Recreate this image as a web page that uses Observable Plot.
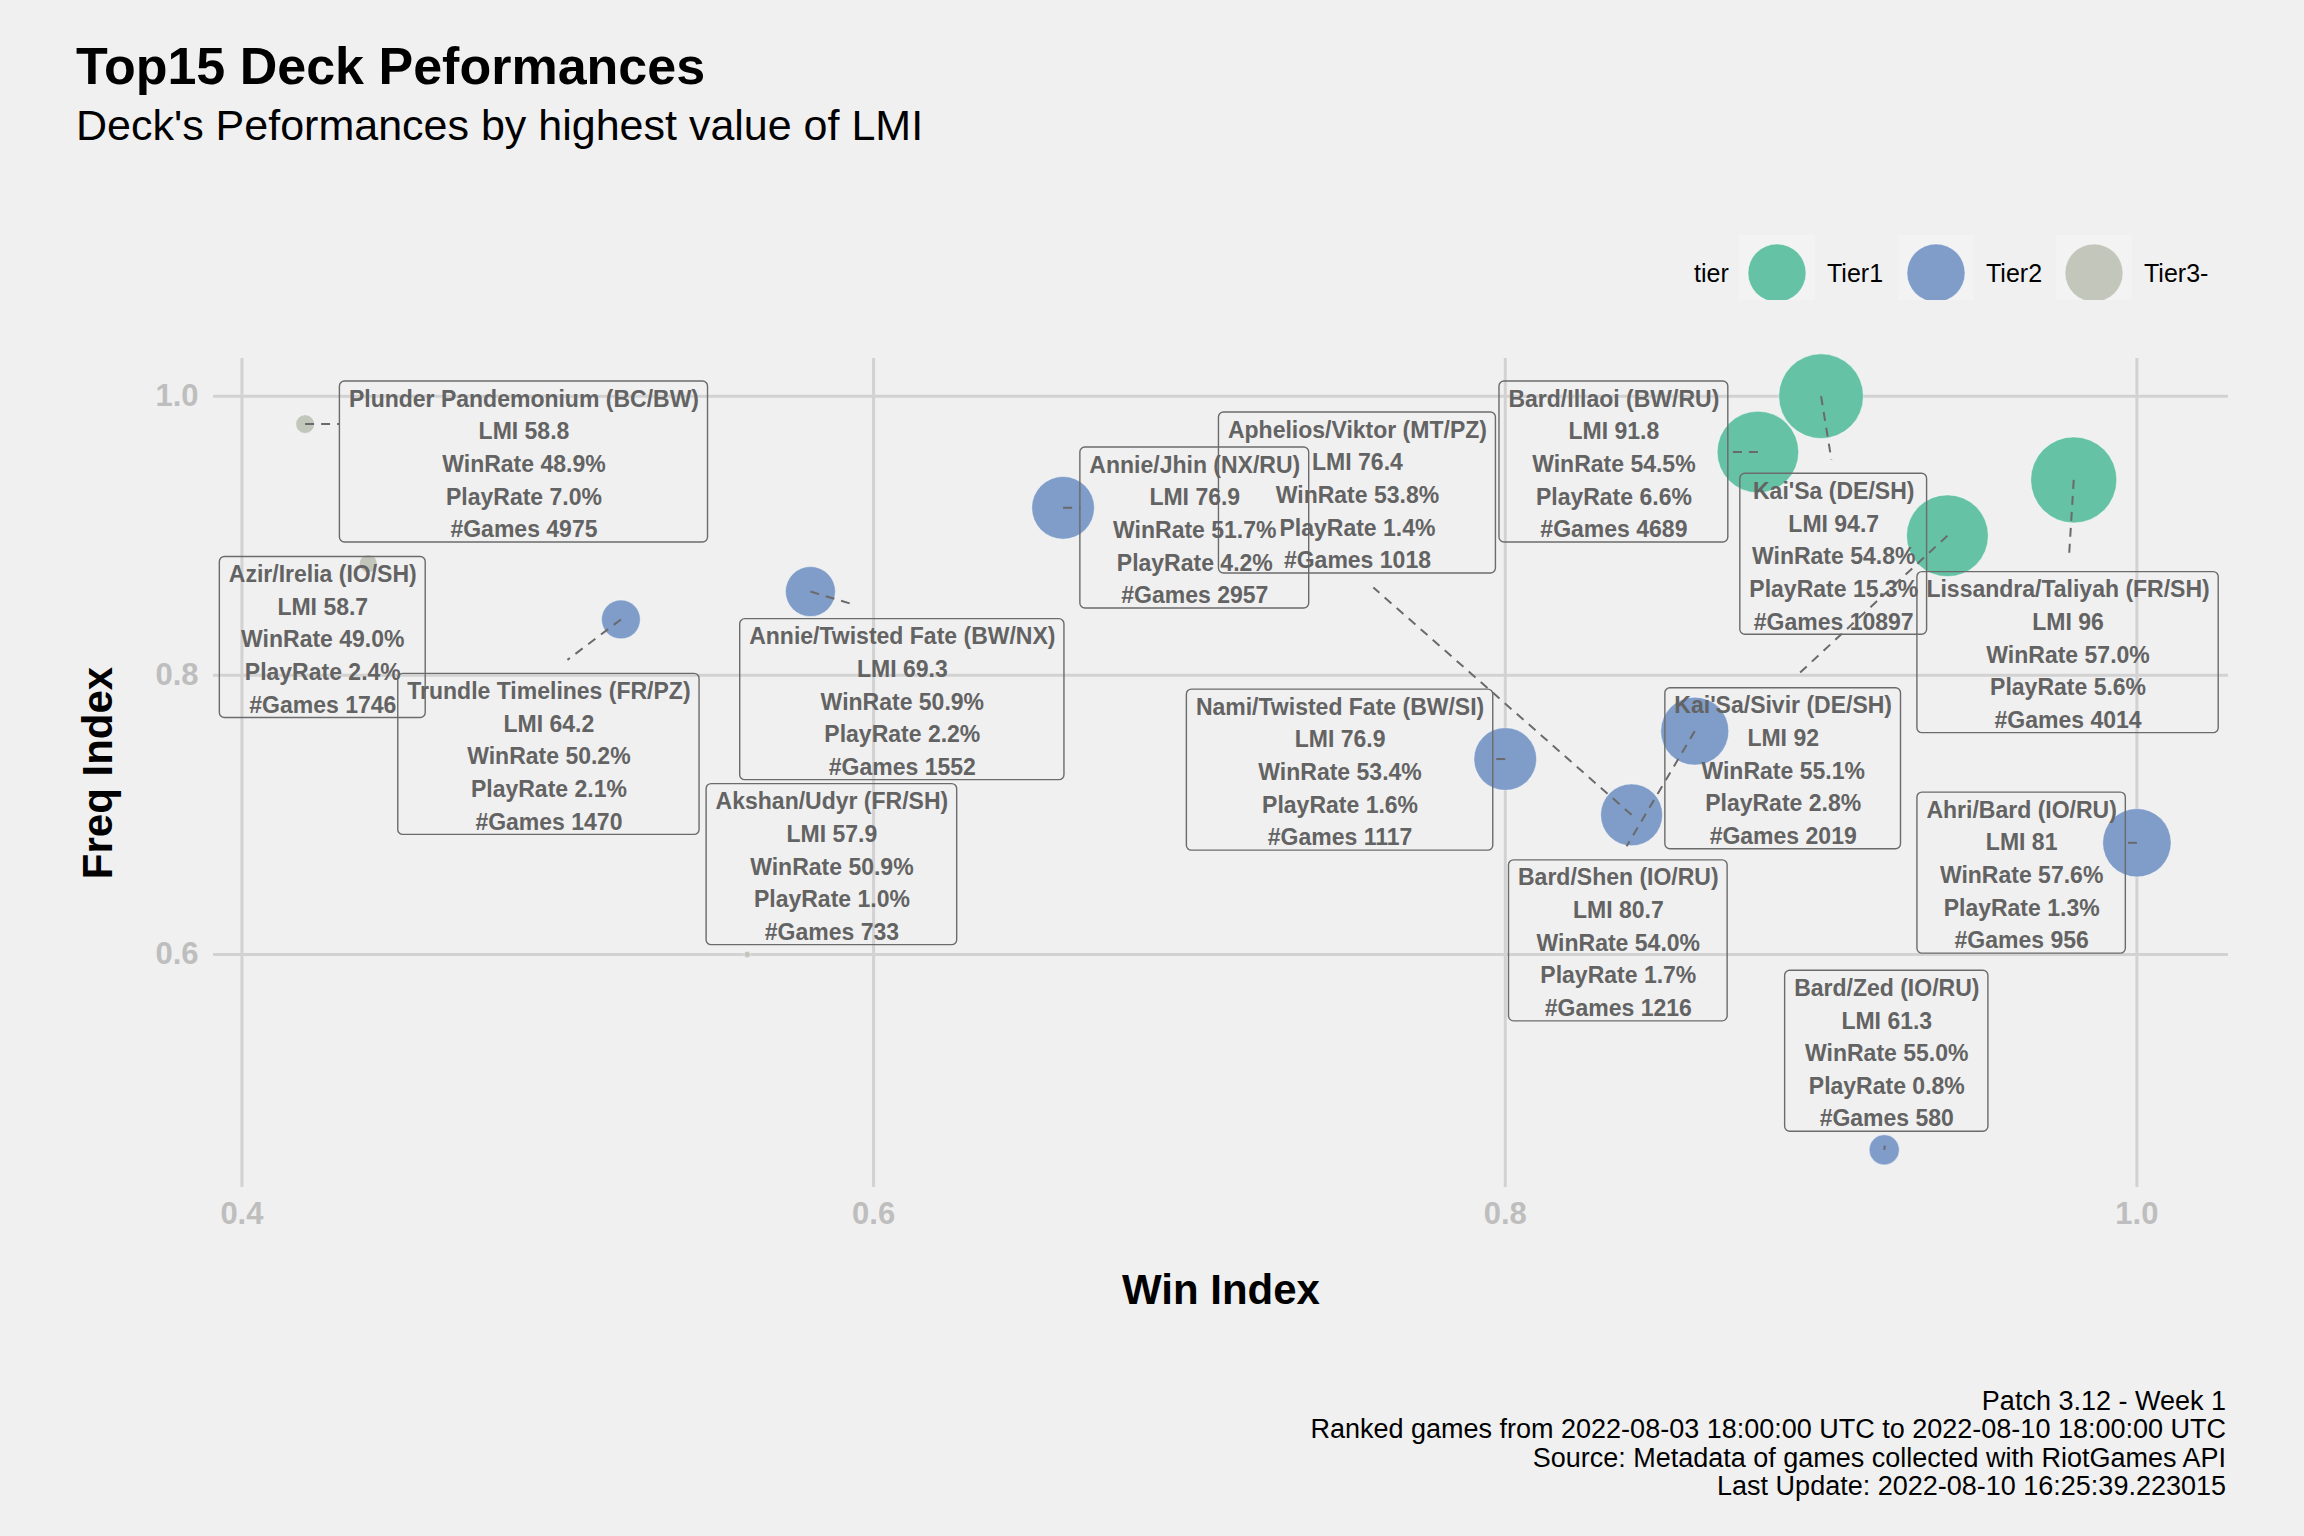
<!DOCTYPE html>
<html>
<head>
<meta charset="utf-8">
<script src="https://cdn.jsdelivr.net/npm/d3@7"></script>
<script src="https://cdn.jsdelivr.net/npm/@observablehq/plot@0.6"></script>
<style>
  html, body { margin: 0; padding: 0; background: #F0F0F0; }
  #page { position: relative; width: 2304px; height: 1536px; background: #F0F0F0; overflow: hidden;
          font-family: "Liberation Sans", Arial, sans-serif; }
  .overlay { position: absolute; left: 0; }
  #chart { position: absolute; left: 0; top: 300px; }
</style>
</head>
<body>
<div id="page">
  <svg class="overlay" id="header" style="top:0px" width="2304" height="300"></svg>
  <div id="chart"></div>
  <svg class="overlay" id="footer" style="top:1360px" width="2304" height="176"></svg>
</div>
<script>
// ---------------- data ----------------
const decks = ["Plunder Pandemonium (BC/BW)", "Azir/Irelia (IO/SH)", "Trundle Timelines (FR/PZ)",
  "Annie/Twisted Fate (BW/NX)", "Akshan/Udyr (FR/SH)", "Annie/Jhin (NX/RU)", "Aphelios/Viktor (MT/PZ)",
  "Bard/Illaoi (BW/RU)", "Kai'Sa (DE/SH)", "Lissandra/Taliyah (FR/SH)", "Nami/Twisted Fate (BW/SI)",
  "Kai'Sa/Sivir (DE/SH)", "Bard/Shen (IO/RU)", "Ahri/Bard (IO/RU)", "Bard/Zed (IO/RU)"];
const tiers = ["Tier3-", "Tier3-", "Tier2", "Tier2", "Tier3-", "Tier2", "Tier2",
  "Tier1", "Tier1", "Tier1", "Tier2", "Tier1", "Tier2", "Tier2", "Tier2"];
const winIndex  = [0.42, 0.44, 0.52, 0.58, 0.56, 0.66, 0.84, 0.88, 0.90, 0.98, 0.80, 0.94, 0.86, 1.00, 0.92];
const freqIndex = [0.98, 0.88, 0.84, 0.86, 0.60, 0.92, 0.70, 0.96, 1.00, 0.94, 0.74, 0.90, 0.76, 0.68, 0.46];
const lmi       = [58.8, 58.7, 64.2, 69.3, 57.9, 76.9, 76.4, 91.8, 94.7, 96, 76.9, 92, 80.7, 81, 61.3];
const winRate   = [48.9, 49.0, 50.2, 50.9, 50.9, 51.7, 53.8, 54.5, 54.8, 57.0, 53.4, 55.1, 54.0, 57.6, 55.0];
const playRate  = [7.0, 2.4, 2.1, 2.2, 1.0, 4.2, 1.4, 6.6, 15.3, 5.6, 1.6, 2.8, 1.7, 1.3, 0.8];
const games     = [4975, 1746, 1470, 1552, 733, 2957, 1018, 4689, 10897, 4014, 1117, 2019, 1216, 956, 580];

// repelled label anchor positions (data units)
const labelX = [0.4893, 0.4256, 0.4972, 0.6091, 0.5868, 0.7017, 0.7532, 0.8344, 0.9040, 0.9782, 0.7477, 0.8880, 0.8358, 0.9635, 0.9208];
const labelY = [0.9532, 0.8275, 0.7437, 0.7829, 0.6647, 0.9059, 0.9310, 0.9532, 0.8871, 0.8166, 0.7324, 0.7334, 0.6101, 0.6586, 0.5310];

const xTicks = [0.4, 0.6, 0.8, 1.0];
const yTicks = [0.6, 0.8, 1.0];
const tierNames = ["Tier1", "Tier2", "Tier3-"];
const tierColors = ["#66C2A5", "#7F9DC8", "#C3C6BB"];

const titleText = "Top15 Deck Peformances";
const subtitleText = "Deck's Peformances by highest value of LMI";
const captionLines = ["Patch 3.12 - Week 1",
  "Ranked games from 2022-08-03 18:00:00 UTC to 2022-08-10 18:00:00 UTC",
  "Source: Metadata of games collected with RiotGames API",
  "Last Update: 2022-08-10 16:25:39.223015"];

// ---------------- layout ----------------
const FONT = '"Liberation Sans", Arial, sans-serif';
const W = 2304, H = 1060, mL = 213, mR = 76, mT = 58, mB = 173;
const xDomain = [0.391, 1.029], yDomain = [0.433, 1.027];
const kx = (W - mL - mR) / (xDomain[1] - xDomain[0]);
const ky = (H - mT - mB) / (yDomain[1] - yDomain[0]);
const px = v => mL + (v - xDomain[0]) * kx;
const py = v => mT + (yDomain[1] - v) * ky;
const LF = 23, LH = 1.42, PADX = 9, BOX_UP = 80, BOX_DOWN = 81, GAP = 14;

const lmiMin = d3.min(lmi), lmiMax = d3.max(lmi);
const ctx = document.createElement("canvas").getContext("2d");
ctx.font = `bold ${LF}px ${FONT}`;

const rows = decks.map((deck, i) => {
  const lines = [deck, `LMI ${lmi[i]}`, `WinRate ${winRate[i].toFixed(1)}%`,
                 `PlayRate ${playRate[i].toFixed(1)}%`, `#Games ${games[i]}`];
  const w = d3.max(lines, s => ctx.measureText(s).width);
  const halfW = w / 2 + PADX;
  return {
    deck, tier: tiers[i], x: winIndex[i], y: freqIndex[i], lmi: lmi[i],
    label: lines.join("\n"), lx: labelX[i], ly: labelY[i], halfW,
    bx1: labelX[i] - halfW / kx, bx2: labelX[i] + halfW / kx,
    by1: labelY[i] + BOX_UP / ky, by2: labelY[i] - BOX_DOWN / ky
  };
});

// leader segments (ggrepel-like): from point centre to the nearest side of the label box
const toX = p => xDomain[0] + (p - mL) / kx;
const toY = p => yDomain[1] - (p - mT) / ky;
const segs = [];
for (const r of rows) {
  const Px = px(r.x), Py = py(r.y), Cx = px(r.lx), Cy = py(r.ly);
  const left = Cx - r.halfW, right = Cx + r.halfW, top = Cy - BOX_UP, bottom = Cy + BOX_DOWN;
  let Ex, Ey;
  if (Py >= top && Py <= bottom) {
    if (Px >= left && Px <= right) continue;          // point inside the box
    Ex = Px < left ? left : right; Ey = Py;
  } else {
    const My = Py < top ? top : bottom;
    const endY = Py < top ? My - GAP : My + GAP;
    if ((Py < top && Py >= endY) || (Py > bottom && Py <= endY)) continue;
    const t = (endY - Py) / (My - Py);
    Ex = Px + t * (Cx - Px); Ey = endY;
  }
  segs.push({x1: r.x, y1: r.y, x2: toX(Ex), y2: toY(Ey)});
}

const chart = Plot.plot({
  width: W, height: H,
  marginLeft: mL, marginRight: mR, marginTop: mT, marginBottom: mB,
  style: {background: "transparent", fontFamily: FONT, overflow: "visible"},
  x: {domain: xDomain, axis: null},
  y: {domain: yDomain, axis: null},
  r: {type: "linear", domain: [1, 2], range: [3.2, 43]},
  color: {domain: tierNames, range: tierColors},
  marks: [
    Plot.ruleX(xTicks, {x: d => d, stroke: "#D2D2D2", strokeWidth: 3}),
    Plot.ruleY(yTicks, {y: d => d, stroke: "#D2D2D2", strokeWidth: 3}),
    Plot.text(xTicks, {x: d => d, frameAnchor: "bottom", dy: 27, lineAnchor: "middle",
      text: d => d.toFixed(1), fontSize: 31, fontWeight: "bold", fill: "#BEBEBE"}),
    Plot.text(yTicks, {y: d => d, frameAnchor: "left", dx: -15, textAnchor: "end", lineAnchor: "middle",
      text: d => d.toFixed(1), fontSize: 31, fontWeight: "bold", fill: "#BEBEBE"}),
    Plot.text(["Win Index"], {frameAnchor: "bottom", dy: 103, textAnchor: "middle", lineAnchor: "middle",
      text: d => d, fontSize: 42, fontWeight: "bold", fill: "#000"}),
    Plot.text(["Freq Index"], {frameAnchor: "left", dx: -115, rotate: -90, textAnchor: "middle", lineAnchor: "middle",
      text: d => d, fontSize: 42, fontWeight: "bold", fill: "#000"}),
    Plot.dot(rows, {x: "x", y: "y",
      r: d => 1 + Math.sqrt((d.lmi - lmiMin) / (lmiMax - lmiMin)),
      fill: "tier", fillOpacity: 1, stroke: "#FFFFFF", strokeOpacity: 0.45, strokeWidth: 1}),
    Plot.link(segs, {x1: "x1", y1: "y1", x2: "x2", y2: "y2",
      stroke: "#6A6A6A", strokeWidth: 2, strokeDasharray: "9,7"}),
    Plot.rect(rows, {x1: "bx1", x2: "bx2", y1: "by1", y2: "by2",
      fill: "none", stroke: "#6B6B6B", strokeWidth: 1.4, rx: 5}),
    Plot.text(rows, {x: "lx", y: "ly", text: "label", lineAnchor: "middle", lineHeight: LH,
      fontSize: LF, fontWeight: "bold", fill: "#636363"})
  ]
});
document.getElementById("chart").appendChild(chart);

// ---------------- header: title, subtitle, legend ----------------
const header = d3.select("#header").attr("font-family", FONT);
header.append("text").attr("x", 76).attr("y", 83.5).attr("font-size", 52).attr("font-weight", "bold")
  .attr("fill", "#000").text(titleText);
header.append("text").attr("x", 76).attr("y", 140).attr("font-size", 43)
  .attr("fill", "#000").text(subtitleText);

header.append("text").attr("x", 1694).attr("y", 282).attr("font-size", 25).attr("fill", "#000").text("tier");
const keyCx = [1777, 1936, 2094];
tierNames.forEach((t, i) => {
  header.append("rect").attr("x", keyCx[i] - 38).attr("y", 235).attr("width", 76).attr("height", 76)
    .attr("fill", "#F3F3F3");
  header.append("circle").attr("cx", keyCx[i]).attr("cy", 273).attr("r", 29)
    .attr("fill", tierColors[i]).attr("stroke", "#FFFFFF").attr("stroke-opacity", 0.45);
  header.append("text").attr("x", keyCx[i] + 50).attr("y", 282).attr("font-size", 25)
    .attr("fill", "#000").text(t);
});

// ---------------- footer caption ----------------
const footer = d3.select("#footer").attr("font-family", FONT);
captionLines.forEach((s, i) => {
  footer.append("text").attr("x", 2226).attr("y", 50 + i * 28.4).attr("text-anchor", "end")
    .attr("font-size", 27).attr("fill", "#000").text(s);
});
</script>
</body>
</html>
